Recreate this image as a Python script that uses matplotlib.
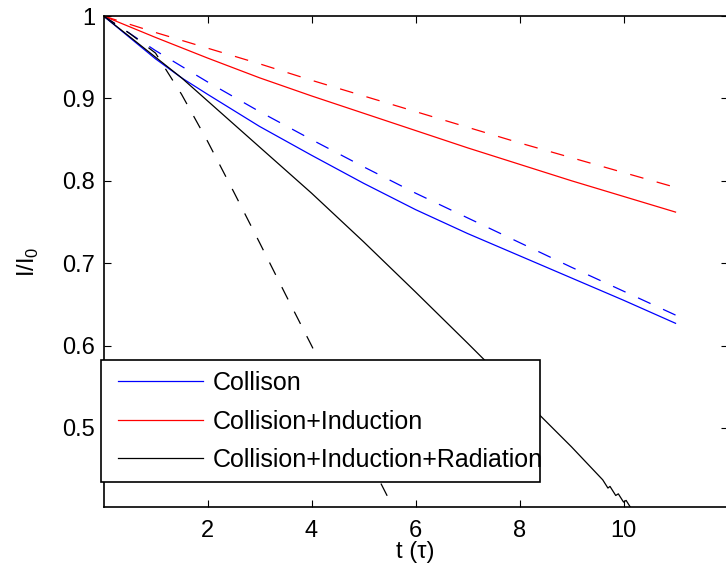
import matplotlib
matplotlib.use("Agg")
import matplotlib.pyplot as plt
from matplotlib.patches import Rectangle

plt.rcParams['font.family'] = ['Liberation Sans', 'DejaVu Sans']
plt.rcParams['mathtext.fontset'] = 'custom'
plt.rcParams['mathtext.rm'] = 'Liberation Sans'

# data
t_blue = [0, 0.5, 1, 1.5, 2, 3, 4, 5, 6, 7, 8, 9, 10, 11]
blue_solid = [1, 0.974, 0.948, 0.925, 0.905, 0.866, 0.831, 0.797, 0.765, 0.736, 0.709, 0.682, 0.655, 0.627]
blue_dash = [1, 0.979, 0.958, 0.939, 0.92, 0.884, 0.85, 0.817, 0.785, 0.755, 0.725, 0.695, 0.666, 0.637]

t_red = [0, 1, 2, 3, 4, 5, 6, 7, 8, 9, 10, 11]
red_solid = [1, 0.974, 0.949, 0.925, 0.903, 0.882, 0.861, 0.84, 0.82, 0.8, 0.781, 0.762]
red_dash = [1, 0.98, 0.961, 0.942, 0.922, 0.903, 0.884, 0.865, 0.846, 0.828, 0.81, 0.792]

t_black = [0, 0.5, 1, 1.5, 2, 3, 4, 5, 6, 7, 8, 9, 9.6, 9.7, 9.74, 9.85, 9.9, 10.0, 10.05, 10.15, 10.5]
black_solid = [1, 0.975, 0.95, 0.925, 0.897, 0.841, 0.785, 0.726, 0.665, 0.603, 0.54, 0.477, 0.437,
               0.427, 0.429, 0.418, 0.42, 0.41, 0.412, 0.402, 0.38]
t_black_d = [0, 0.5, 1, 1.5, 2, 2.5, 3, 3.5, 4, 4.5, 5, 5.5, 6]
black_dash = [1, 0.979, 0.955, 0.905, 0.848, 0.787, 0.725, 0.662, 0.6, 0.537, 0.474, 0.412, 0.35]

labels = ['Collison', 'Collision+Induction', 'Collision+Induction+Radiation']

fig = plt.figure(figsize=(7.26, 5.74), dpi=100)
ax = fig.add_axes([0.1426, 0.1167, 0.8595, 0.8554])

dash = (0, (11, 11))
lw = 0.9
l1, = ax.plot(t_blue, blue_solid, color='blue', lw=lw)
l2, = ax.plot(t_red, red_solid, color='red', lw=lw)
l3, = ax.plot(t_black, black_solid, color='black', lw=lw)
ax.plot(t_blue, blue_dash, color='blue', lw=lw, linestyle=dash)
ax.plot(t_red, red_dash, color='red', lw=lw, linestyle=dash)
ax.plot(t_black_d, black_dash, color='black', lw=lw, linestyle=dash)

ax.set_xlim(0, 12)
ax.set_ylim(0.404, 1)
ax.set_xticks([2, 4, 6, 8, 10])
ax.set_yticks([0.5, 0.6, 0.7, 0.8, 0.9, 1.0])
ax.set_yticklabels(['0.5', '0.6', '0.7', '0.8', '0.9', '1'])
ax.tick_params(direction='in', top=True, right=True, length=5, width=0.8, labelsize=17)
ax.tick_params(axis='x', pad=9)
ax.tick_params(axis='y', pad=6)
for s in ax.spines.values():
    s.set_linewidth(1.2)

ax.set_xlabel('t (τ)', fontsize=17)
ax.xaxis.set_label_coords(0.5, -0.07)
ax.xaxis.label.set_va('top')
ax.set_ylabel(r'I/I$_0$', fontsize=17)
ax.yaxis.set_label_coords(-0.1, 0.5)

# legend box drawn by hand so the long label can overflow it like the original
box = Rectangle((-0.004, 0.0509), 0.7035, 0.2485, transform=ax.transAxes,
                facecolor='white', edgecolor='black', lw=1.2, zorder=4, clip_on=False)
ax.add_patch(box)
leg = ax.legend([l1, l2, l3], labels, loc='center left', bbox_to_anchor=(0.0232, 0.174),
                frameon=False, fontsize=18, borderpad=0, borderaxespad=0,
                handlelength=3.4, handletextpad=0.4, labelspacing=0.58)
leg.set_zorder(5)

fig.savefig('out.png', dpi=100)
